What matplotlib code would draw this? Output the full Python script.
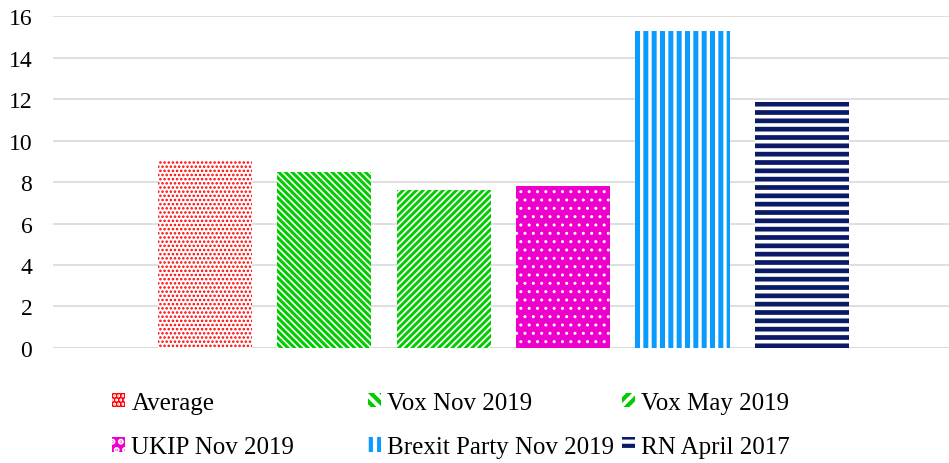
import matplotlib
matplotlib.use("Agg")
import matplotlib.pyplot as plt
import matplotlib.patches as mpatches

labels = ["Average", "Vox Nov 2019", "Vox May 2019",
          "UKIP Nov 2019", "Brexit Party Nov 2019", "RN April 2017"]
values = [9.0, 8.5, 7.6, 7.8, 15.3, 11.85]
yticks = [0, 2, 4, 6, 8, 10, 12, 14, 16]

BS = chr(92)  # backslash
# (face, hatch colour, hatch, hatch line width, legend hatch, legend line width)
styles = [
    ("white", "#ff0000", "....", 1.2, "....", 1.0),
    ("white", "#00cc00", BS * 5, 2.2, BS * 3, 2.0),
    ("white", "#00cc00", "/" * 5, 2.1, "/" * 3, 2.0),
    ("#ee00cc", "white", "..", 1.0, "..", 1.0),
    ("white", "#0a9bff", "||", 3.6, "||", 2.6),
    ("white", "#0a1a66", "--", 3.4, "--", 3.0),
]

plt.rcParams["font.family"] = ["Liberation Serif", "DejaVu Serif"]

fig = plt.figure(figsize=(9.49, 4.64), dpi=100)
ax = fig.add_axes([0.056, 0.248, 0.944, 0.715])

handles = []
for i, (lab, val, st) in enumerate(zip(labels, values, styles)):
    face, hcol, hatch, hlw, lhatch, llw = st
    plt.rcParams["hatch.linewidth"] = hlw
    ax.bar(i, val, width=0.79, color=face, edgecolor=hcol, hatch=hatch,
           linewidth=0, label=lab, zorder=3)
    # legend swatch
    plt.rcParams["hatch.linewidth"] = llw
    handles.append(mpatches.Patch(facecolor=face, edgecolor=hcol,
                                  hatch=lhatch, linewidth=0, label=lab))

ax.set_xlim(-1.27, 6.23)
ax.set_ylim(0, 16)
ax.set_yticks(yticks)
ax.set_xticks([])
ax.yaxis.grid(True, color="#d9d9d9", linewidth=1.2, zorder=0)
for s in ["top", "right", "left", "bottom"]:
    ax.spines[s].set_visible(False)
ax.tick_params(axis="y", length=0, pad=15, labelsize=17)
ax.axhline(0, color="#d9d9d9", linewidth=1.2, zorder=2)

# legend: three columns, filled row by row
col_x = [112, 368, 622]
for c in range(3):
    idx = [c, c + 3]
    fig.legend(handles=[handles[k] for k in idx],
               labels=[labels[k] for k in idx],
               loc="center left", bbox_to_anchor=(col_x[c] / 949, 1 - 426 / 464),
               frameon=False, fontsize=18, borderaxespad=0, borderpad=0,
               handlelength=0.52, handleheight=0.52, handletextpad=0.25,
               labelspacing=0.9)

fig.savefig("out.png", dpi=100)
